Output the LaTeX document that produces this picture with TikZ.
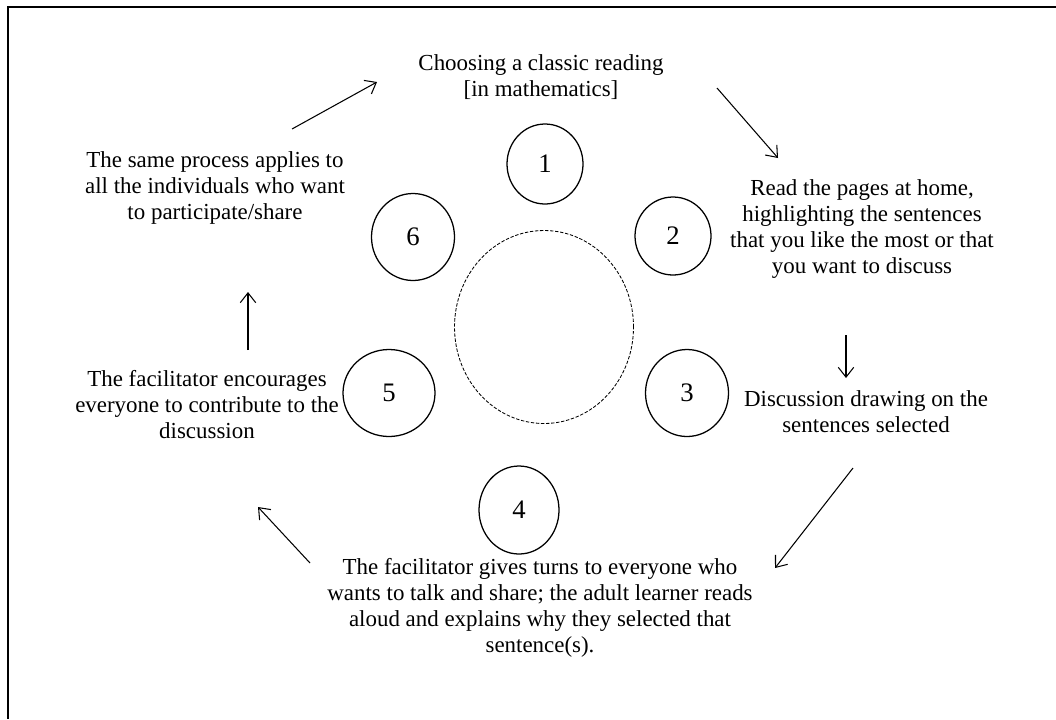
\documentclass[tikz,border=0pt]{standalone}
\usepackage{fontspec}
\setmainfont{Liberation Serif}
\usetikzlibrary{arrows.meta,shapes.geometric}

\begin{document}
\begin{tikzpicture}[x=0.025cm,y=-0.025cm]
        \tikzset{seat/.style = {shape=ellipse,draw,line width=0.9pt,inner sep=0pt,font=\fontsize{19pt}{22pt}\selectfont}}
        \tikzset{note/.style = {align=center,font=\fontsize{16.3pt}{18.5pt}\selectfont}}
        \tikzset{edge/.style = {-{Straight Barb[length=7pt,width=11pt]},line width=0.75pt}}

        \useasboundingbox (0,0) rectangle (1056,719);
        \draw[line width=1.4pt] (1056,7) -- (8,7) -- (8,719);

        % seats round the table
        \node[seat,dashed,dash pattern=on 2.4pt off 1.2pt,line width=0.6pt,
              minimum width=179*0.025cm,minimum height=193*0.025cm] (table) at (544,327) {};
        \foreach \n/\x/\y/\w/\h in {1/545/164/76/80,2/673/236/76/78,3/687/393/83/87,
                                   4/519/510/80/88,5/389/393/92/87,6/413/237/83/87}
            \node[seat,minimum width=\w*0.025cm,minimum height=\h*0.025cm] (seat\n) at (\x,\y) {\n};

        % steps
        \node[note] (choose) at (541,77) {Choosing a classic reading\\{}[in mathematics]};
        \node[note] (home) at (862,229) {Read the pages at home,\\highlighting the sentences\\that you like the most or that\\you want to discuss};
        \node[note] (discuss) at (866,412) {Discussion drawing on the\\sentences selected};
        \node[note] (turns) at (540,608) {The facilitator gives turns to everyone who\\wants to talk and share; the adult learner reads\\aloud and explains why they selected that\\sentence(s).};
        \node[note] (encourage) at (207,405) {The facilitator encourages\\everyone to contribute to the\\discussion};
        \node[note] (repeat) at (215,188) {The same process applies to\\all the individuals who want\\to participate/share};

        % arrows
        \coordinate (s1) at (717,88);  \coordinate (t1) at (778,158);
        \coordinate (s2) at (846,335); \coordinate (t2) at (846,378);
        \coordinate (s3) at (853,468); \coordinate (t3) at (775,568);
        \coordinate (s4) at (310,563); \coordinate (t4) at (258,507);
        \coordinate (s5) at (248,350); \coordinate (t5) at (248,292);
        \coordinate (s6) at (292,129); \coordinate (t6) at (377,82);
        \foreach \i in {1,...,6}
            \draw[edge] (s\i) -- (t\i);

    \end{tikzpicture}
\end{document}
